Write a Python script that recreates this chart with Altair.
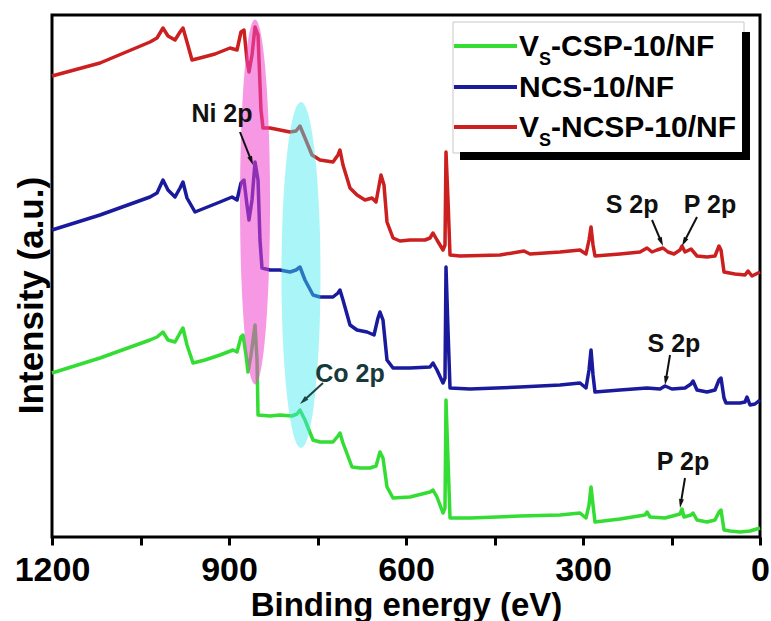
import math
import altair as alt
import pandas as pd

FONT = "Liberation Sans"
W, H = 708, 522
PX_EV = W / 1200.0   # pixels per eV
PX_I = H / 522.0     # pixels per a.u.

# ---------------- data ----------------
series_names = ["Vs-CSP-10/NF", "NCS-10/NF", "Vs-NCSP-10/NF"]
series_colors = ["#33dd33", "#1a1a9c", "#cc1f1f"]

green_ev = [1200, 1118.6, 1033.9, 1022, 1011.9, 1003.4, 991.5, 983, 978, 971.2, 961, 940.7, 915.3, 893.2,
            886.4, 879.7, 876.3, 871.2, 867.8, 862.7, 855.9, 852.5, 850.8, 830.5, 813.6, 793.3, 784.8, 779.7,
            771.2, 757.6, 745.8, 723.7, 715.3, 711.9, 706.8, 691.5, 678, 661, 650.8, 644.1, 639, 632.2, 622,
            593.2, 559.3, 554.2, 547.5, 537.3, 533.9, 532.2, 528.8, 525.4, 491.5, 406.8, 338.9, 305.1, 294.9,
            289.8, 286.4, 283, 279.7, 237.3, 195, 191.5, 186.4, 161, 135.6, 132.2, 128.8, 116.9, 113.5, 106.8,
            89.8, 76.3, 69.5, 66.1, 61, 50.8, 33.9, 16.9, 0]
green_int = [164, 179, 197, 200, 205, 197, 195, 204, 209, 192, 174, 177, 182, 187, 185, 200, 202, 182, 165, 182,
             212, 177, 122, 121, 122, 121, 123, 127, 117, 97, 95, 95, 101, 104, 94, 70, 69, 69, 71, 85, 79, 50,
             39, 40, 45, 47, 40, 24, 29, 137, 77, 19, 19, 21, 22, 24, 19, 32, 50, 32, 15, 18, 22, 25, 20, 19, 23,
             28, 20, 22, 24, 17, 15, 17, 25, 27, 7, 6, 5, 6, 9]

blue_ev = [1200, 1118.6, 1033.9, 1022, 1011.9, 1003.4, 991.5, 983, 978, 971.2, 957.6, 940.7, 915.3, 894.9,
           886.4, 879.7, 874.6, 869.5, 866.1, 861, 855.9, 850.8, 847.5, 844.1, 830.5, 813.6, 796.6, 786.4,
           779.7, 771.2, 757.6, 745.8, 723.7, 715.3, 711.9, 706.8, 694.9, 683, 666, 654.2, 647.5, 644.1, 639,
           632.2, 622, 593.2, 559.3, 554.2, 547.5, 537.3, 533.9, 532.2, 528.8, 525.4, 491.5, 406.8, 338.9,
           305.1, 294.9, 289.8, 286.4, 283, 279.7, 237.3, 191.5, 169.5, 161, 149.2, 127.1, 116.9, 113.5, 106.8,
           89.8, 76.3, 69.5, 66.1, 61, 57.6, 33.9, 25.4, 22, 16.9, 8.5, 0]
blue_int = [307, 322, 340, 344, 357, 347, 340, 349, 355, 339, 325, 329, 335, 340, 337, 354, 357, 332, 317, 337,
            375, 357, 297, 269, 267, 267, 265, 267, 270, 257, 242, 240, 240, 244, 247, 237, 212, 207, 205, 202,
            219, 225, 217, 177, 169, 169, 170, 174, 167, 154, 159, 270, 207, 149, 148, 150, 152, 154, 149, 167,
            187, 162, 145, 147, 149, 148, 151, 148, 149, 153, 156, 147, 145, 147, 157, 159, 139, 134, 134, 135,
            140, 132, 133, 137]

red_ev = [1200, 1118.6, 1033.9, 1022, 1011.9, 1003.4, 991.5, 983, 978, 971.2, 962.7, 949.2, 923.7, 898.3,
          886.4, 879.7, 874.6, 869.5, 866.1, 861, 855.9, 850.8, 845.8, 842.4, 830.5, 813.6, 796.6, 786.4, 779.7,
          771.2, 759.3, 745.8, 723.7, 715.3, 711.9, 706.8, 694.9, 683, 669.5, 657.6, 650.8, 642.4, 637.3, 632.2,
          622, 610.2, 593.2, 567.8, 559.3, 554.2, 547.5, 537.3, 533.9, 532.2, 528.8, 525.4, 508.5, 440.7, 400,
          389.8, 338.9, 305.1, 294.9, 289.8, 286.4, 283, 279.7, 237.3, 203.4, 191.5, 183, 174.6, 164.4, 155.9,
          145.8, 135.6, 132.2, 127.1, 116.9, 106.8, 89.8, 76.3, 69.5, 66.1, 61, 42.4, 25.4, 20.3, 13.6, 0]
red_int = [461, 474, 495, 499, 509, 501, 497, 505, 509, 495, 477, 479, 483, 489, 487, 505, 507, 477, 465, 482,
           510, 502, 427, 409, 409, 407, 405, 406, 411, 399, 382, 377, 375, 382, 387, 372, 349, 342, 337, 339,
           335, 362, 352, 315, 299, 296, 297, 297, 299, 304, 297, 287, 292, 385, 337, 282, 281, 282, 286, 283,
           285, 287, 283, 297, 310, 292, 281, 283, 285, 289, 285, 287, 289, 285, 283, 287, 291, 285, 288, 281,
           280, 281, 291, 287, 265, 263, 262, 266, 261, 265]

tick_values = [0, 150, 300, 450, 600, 750, 900, 1050, 1200]

# annotations (label, eV, intensity)
ann_labels = ["Ni 2p", "Co 2p", "S 2p", "P 2p", "S 2p", "P 2p"]
ann_ev = [911.9, 694.9, 216.9, 84.7, 145.8, 130.5]
ann_int = [415, 155, 324, 324, 185, 67]
ann_colors = ["#111111", "#17393a", "#111111", "#111111", "#111111", "#111111"]

# arrows: tail (eV, a.u.) -> head (eV, a.u.)
arr_tail_ev = [881.4, 740.7, 183.0, 106.8, 152.5, 127.1]
arr_tail_int = [405, 154, 317, 320, 182, 59]
arr_head_ev = [859.3, 779.7, 164.4, 132.2, 161.0, 135.6]
arr_head_int = [372, 133, 291, 291, 152, 29]
arr_colors = ["#111111", "#1d4545", "#111111", "#111111", "#111111", "#111111"]

# highlighted regions (centre eV, centre a.u., width px, height px)
pink_region = (855.9, 335, 30, 365)
cyan_region = (778.0, 262, 39, 346)

# ---------------- tables ----------------
frames = []
for name, ev, inten in zip(series_names, [green_ev, blue_ev, red_ev], [green_int, blue_int, red_int]):
    frames.append(pd.DataFrame({"series": name, "ev": ev, "intensity": inten}))
spectra = pd.concat(frames, ignore_index=True)

x_scale = alt.Scale(domain=[0, 1200], reverse=True, nice=False, zero=False)
y_scale = alt.Scale(domain=[0, 522], nice=False, zero=False)

x_axis = alt.Axis(
    values=tick_values, format="d",
    labelExpr="datum.value % 300 === 0 ? datum.label : ''",
    labelFont=FONT, labelFontSize=34, labelFontWeight="bold", labelColor="black",
    labelBaseline="alphabetic", labelPadding=35, labelOverlap=False, labelFlush=False,
    tickSize=8, tickWidth=3, tickColor="black", domain=False, grid=False,
    title="Binding energy (eV)", titleFont=FONT, titleFontSize=33, titleFontWeight="bold",
    titleColor="black", titleBaseline="alphabetic", titleY=78, titleX=W / 2, titleAlign="center",
)
y_axis = alt.Axis(
    labels=False, ticks=False, domain=False, grid=False,
    title="Intensity (a.u.)", titleFont=FONT, titleFontSize=35, titleFontWeight="bold",
    titleColor="black", titleAngle=270, titleX=-10, titleY=280, titleBaseline="alphabetic",
    titleAlign="center",
)

X = alt.X("ev:Q", scale=x_scale, axis=x_axis)
Y = alt.Y("intensity:Q", scale=y_scale, axis=y_axis)

lines = alt.Chart(spectra).mark_line(strokeWidth=3.5, strokeJoin="round").encode(
    x=X, y=Y,
    color=alt.Color("series:N", scale=alt.Scale(domain=series_names, range=series_colors), legend=None),
)


def ellipse_path(a):
    k = 0.5523
    return (f"M0,-1 C{k*a:.4f},-1 {a:.4f},{-k:.4f} {a:.4f},0 "
            f"C{a:.4f},{k:.4f} {k*a:.4f},1 0,1 "
            f"C{-k*a:.4f},1 {-a:.4f},{k:.4f} {-a:.4f},0 "
            f"C{-a:.4f},{-k:.4f} {-k*a:.4f},-1 0,-1 Z")


def region_layer(region, color, opacity):
    cev, cint, wpx, hpx = region
    df = pd.DataFrame({"ev": [cev], "intensity": [cint]})
    return alt.Chart(df).mark_point(
        shape=ellipse_path(wpx / hpx), size=hpx * hpx, filled=True,
        color=color, opacity=opacity, strokeWidth=0,
    ).encode(x=X, y=Y)


pink = region_layer(pink_region, "#ee44cc", 0.55)
cyan = region_layer(cyan_region, "#40e8f0", 0.45)

# arrows
HEAD_LEN = 9.0
rows = []
for tev, tint, hev, hint, col in zip(arr_tail_ev, arr_tail_int, arr_head_ev, arr_head_int, arr_colors):
    dx = -(hev - tev) * PX_EV
    dy = -(hint - tint) * PX_I
    L = math.hypot(dx, dy)
    ux, uy = dx / L, dy / L
    cev = hev + (HEAD_LEN / 2) * ux / PX_EV
    cint = hint + (HEAD_LEN / 2) * uy / PX_I
    ang = (math.degrees(math.atan2(ux, -uy)) + 360) % 360
    rows.append({"ev": tev, "intensity": tint, "ev2": cev, "intensity2": cint,
                 "hev": cev, "hint": cint, "angle": ang, "col": col})
arrows = pd.DataFrame(rows)

shafts = alt.Chart(arrows).mark_rule(strokeWidth=2).encode(
    x=X, y=Y, x2="ev2:Q", y2="intensity2:Q",
    color=alt.Color("col:N", scale=None),
)
heads = alt.Chart(arrows).mark_point(
    shape="M0,-1 L0.55,1 L-0.55,1 Z", size=HEAD_LEN * HEAD_LEN, filled=True, opacity=1, strokeWidth=0,
).encode(
    x=alt.X("hev:Q", scale=x_scale, axis=x_axis),
    y=alt.Y("hint:Q", scale=y_scale, axis=y_axis),
    angle=alt.Angle("angle:Q", scale=None),
    color=alt.Color("col:N", scale=None),
)

ann = pd.DataFrame({"label": ann_labels, "ev": ann_ev, "intensity": ann_int, "col": ann_colors})
ann_text = alt.Chart(ann).mark_text(
    font=FONT, fontSize=25, fontWeight="bold", align="center", baseline="alphabetic",
).encode(x=X, y=Y, text="label:N", color=alt.Color("col:N", scale=None))

# ---------------- legend (drawn in data units) ----------------
def ev_at(px):
    return 1200 - (px - 52) / PX_EV


def int_at(py):
    return 537 - py


box = pd.DataFrame({"ev": [ev_at(453)], "ev2": [ev_at(744)], "intensity": [int_at(22)], "intensity2": [int_at(153)]})
legend_box = alt.Chart(box).mark_rect(fill="white", stroke="#c8c8c8", strokeWidth=1).encode(
    x=X, y=Y, x2="ev2:Q", y2="intensity2:Q")

shadow = pd.DataFrame({
    "ev": [ev_at(742), ev_at(460)], "ev2": [ev_at(750), ev_at(750)],
    "intensity": [int_at(32), int_at(152)], "intensity2": [int_at(160), int_at(160)],
})
legend_shadow = alt.Chart(shadow).mark_rect(color="black").encode(x=X, y=Y, x2="ev2:Q", y2="intensity2:Q")

row_py = [46, 87, 127]
leg_lines_df = pd.DataFrame({
    "series": series_names,
    "ev": [ev_at(454)] * 3, "ev2": [ev_at(517)] * 3,
    "intensity": [int_at(p) for p in row_py], "intensity2": [int_at(p) for p in row_py],
})
legend_lines = alt.Chart(leg_lines_df).mark_rule(strokeWidth=4).encode(
    x=X, y=Y, x2="ev2:Q", y2="intensity2:Q",
    color=alt.Color("series:N", scale=alt.Scale(domain=series_names, range=series_colors), legend=None),
)

main_txt = pd.DataFrame({
    "label": ["V", "-CSP-10/NF", "NCS-10/NF", "V", "-NCSP-10/NF"],
    "ev": [ev_at(519), ev_at(551), ev_at(519), ev_at(519), ev_at(551)],
    "intensity": [int_at(56), int_at(56), int_at(97), int_at(137), int_at(137)],
})
legend_main = alt.Chart(main_txt).mark_text(
    font=FONT, fontSize=30, fontWeight="bold", align="left", baseline="alphabetic", color="black",
).encode(x=X, y=Y, text="label:N")

sub_txt = pd.DataFrame({"label": ["S", "S"], "ev": [ev_at(539), ev_at(539)],
                        "intensity": [int_at(65), int_at(146)]})
legend_sub = alt.Chart(sub_txt).mark_text(
    font=FONT, fontSize=18, fontWeight="bold", align="left", baseline="alphabetic", color="black",
).encode(x=X, y=Y, text="label:N")

chart = alt.layer(
    lines, pink, cyan, shafts, heads, ann_text,
    legend_box, legend_shadow, legend_lines, legend_main, legend_sub,
).properties(
    width=W, height=H,
    padding={"left": 52, "top": 15, "right": 11, "bottom": 84},
    autosize=alt.AutoSizeParams(type="none"),
).configure_view(stroke="black", strokeWidth=3)

chart.save("out.html", embed_options={"renderer": "svg", "actions": False})
